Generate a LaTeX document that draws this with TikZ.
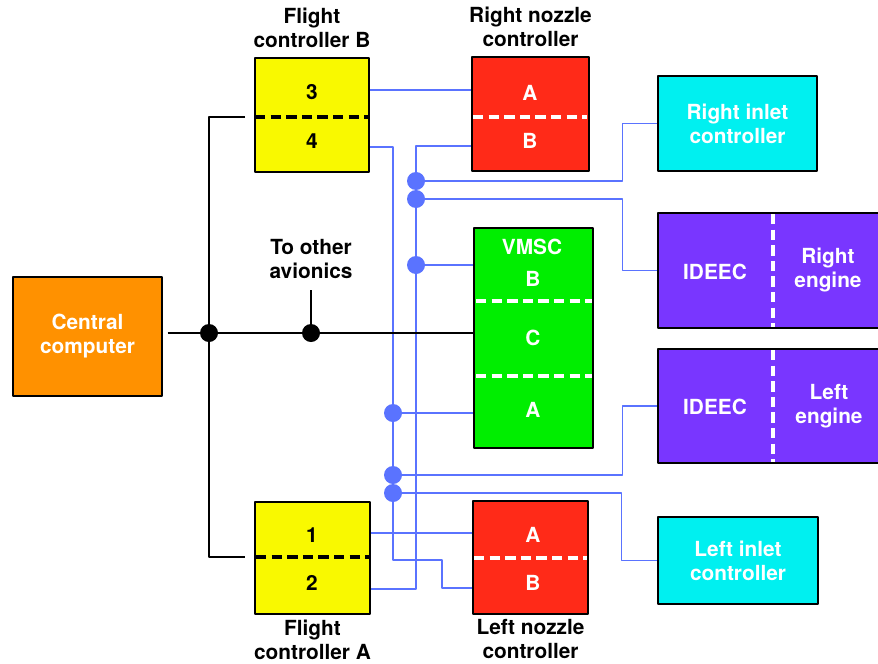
\documentclass[tikz,border=0pt]{standalone}
\usepackage{fontspec}
\setmainfont{TeX Gyre Heros}
\usetikzlibrary{positioning}
\definecolor{ccorange}{HTML}{FF9100}
\definecolor{fcyellow}{HTML}{F9F900}
\definecolor{nzred}{HTML}{FF2A18}
\definecolor{vmgreen}{HTML}{00EE00}
\definecolor{incyan}{HTML}{00F0F0}
\definecolor{engpurple}{HTML}{7936FF}
\definecolor{sigblue}{HTML}{5A73FF}
\begin{document}
\begin{tikzpicture}[x=0.025cm, y=-0.025cm, line join=round,
    font=\bfseries\fontsize{14.8}{17}\selectfont,
    box/.style={draw=black, line width=1.8pt, inner sep=0pt, align=center, text=white},
    lbl/.style={align=center, inner sep=0pt},
    tw/.style={inner sep=0pt, text=white},
    tk/.style={inner sep=0pt, text=black},
    sig/.style={draw=sigblue, line width=1.1pt},
    wire/.style={draw=black, line width=1.2pt},
    split/.style={dash pattern=on 0.26cm off 0.13cm, line width=2.3pt},
    bdot/.style={circle, fill=sigblue, minimum size=0.45cm, inner sep=0pt},
    kdot/.style={circle, fill=black, minimum size=0.45cm, inner sep=0pt}]
    \useasboundingbox (0,0) rectangle (878,663);
    \node[box, fill=ccorange, minimum width=3.725cm, minimum height=2.975cm] (cc) at (87.5,336.5) {Central\\computer};
    \node[box, fill=fcyellow, minimum width=2.85cm, minimum height=2.85cm] (fcb) at (312,115) {};
    \node[box, fill=fcyellow, minimum width=2.875cm, minimum height=2.8cm] (fca) at (312.5,558) {};
    \node[box, fill=nzred, minimum width=2.925cm, minimum height=2.85cm] (rnz) at (530.5,114) {};
    \node[box, fill=nzred, minimum width=2.875cm, minimum height=2.825cm] (lnz) at (530.5,557.5) {};
    \node[box, fill=vmgreen, minimum width=2.975cm, minimum height=5.5cm] (vmsc) at (533.5,338) {};
    \node[box, fill=incyan, minimum width=3.975cm, minimum height=2.375cm] (rin) at (737.5,123.5) {Right inlet\\controller};
    \node[box, fill=incyan, minimum width=4cm, minimum height=2.175cm] (lin) at (738,560.5) {Left inlet\\controller};
    \node[box, fill=engpurple, minimum width=6cm, minimum height=2.875cm] (rie) at (778,270.5) {};
    \node[box, fill=engpurple, minimum width=6cm, minimum height=2.85cm] (lie) at (778,406) {};
    \node[lbl, above=6pt of fcb] (fcbl) {Flight\\controller B};
    \node[lbl, below=3pt of fca] (fcal) {Flight\\controller A};
    \node[lbl, above=6pt of rnz] (rnzl) {Right nozzle\\controller};
    \node[lbl, below=3pt of lnz] (lnzl) {Left nozzle\\controller};
    \node[lbl] (av) at (311,259) {To other\\avionics};
    \foreach \n/\t/\x/\y in {t3/3/312/92, t4/4/312/141, t1/1/312/535, t2/2/312/583}
        \node[tk] (\n) at (\x,\y) {\t};
    \foreach \n/\t/\x/\y in {rA/A/530/93, rB/B/530/141, lA/A/533/535, lB/B/533/583,
        vm/VMSC/532/247, vB/B/533/279, vC/C/533/338, vA/A/533/410,
        ri/IDEEC/715/272, li/IDEEC/715/407}
        \node[tw] (\n) at (\x,\y) {\t};
    \node[tw, align=center] (re) at (828,270) {Right\\engine};
    \node[tw, align=center] (le) at (829,406) {Left\\engine};
    \draw[split] (255,117) -- (369,117);
    \draw[split] (256,557) -- (369,557);
    \draw[split, white] (473,117) -- (587,117);
    \draw[split, white] (474,558) -- (587,558);
    \draw[split, white] (476,301) -- (592,301);
    \draw[split, white] (476,376) -- (592,376);
    \draw[split, white] (773,214) -- (773,327);
    \draw[split, white] (773,350) -- (773,462);
    \foreach \n/\x/\y in {d1/393/413, d2/393/475, d3/393/493, d4/416/181, d5/416/199, d6/416/265}
        \node[bdot] (\n) at (\x,\y) {};
    \draw[sig] (fcb.east |- 0,90) -- (rnz.west |- 0,90);
    \draw[sig] (fca.east |- 0,533) -- (lnz.west |- 0,533);
    \draw[sig] (fcb.east |- 0,147) -| (d3.center) |- (442,560) |- (lnz.west |- 0,588);
    \draw[sig] (rnz.west |- 0,146) -| (d4.center) |- (fca.east |- 0,589);
    \draw[sig] (d1) -- (vmsc.west |- d1);
    \draw[sig] (d6) -- (vmsc.west |- d6);
    \draw[sig] (d4) -| ([xshift=-0.85cm]rin.west) -- (rin.west);
    \draw[sig] (d5) -| ([xshift=-0.85cm]rie.west) -- (rie.west);
    \draw[sig] (d2) -| ([xshift=-0.85cm]lie.west) -- (lie.west);
    \draw[sig] (d3) -| ([xshift=-0.875cm]lin.west) -- (lin.west);
    \node[kdot] (jb) at (209,333) {};
    \node[kdot] (jo) at (311,333) {};
    \coordinate (fbin) at (245,117);
    \coordinate (fain) at (245,557);
    \draw[wire] ([xshift=3pt]cc.east |- jb) -- (vmsc.west |- jb);
    \draw[wire] (fbin) -| (jb.center) |- (fain);
    \draw[wire, shorten >=8pt] (jo.center) -- (av.south);
\end{tikzpicture}
\end{document}
